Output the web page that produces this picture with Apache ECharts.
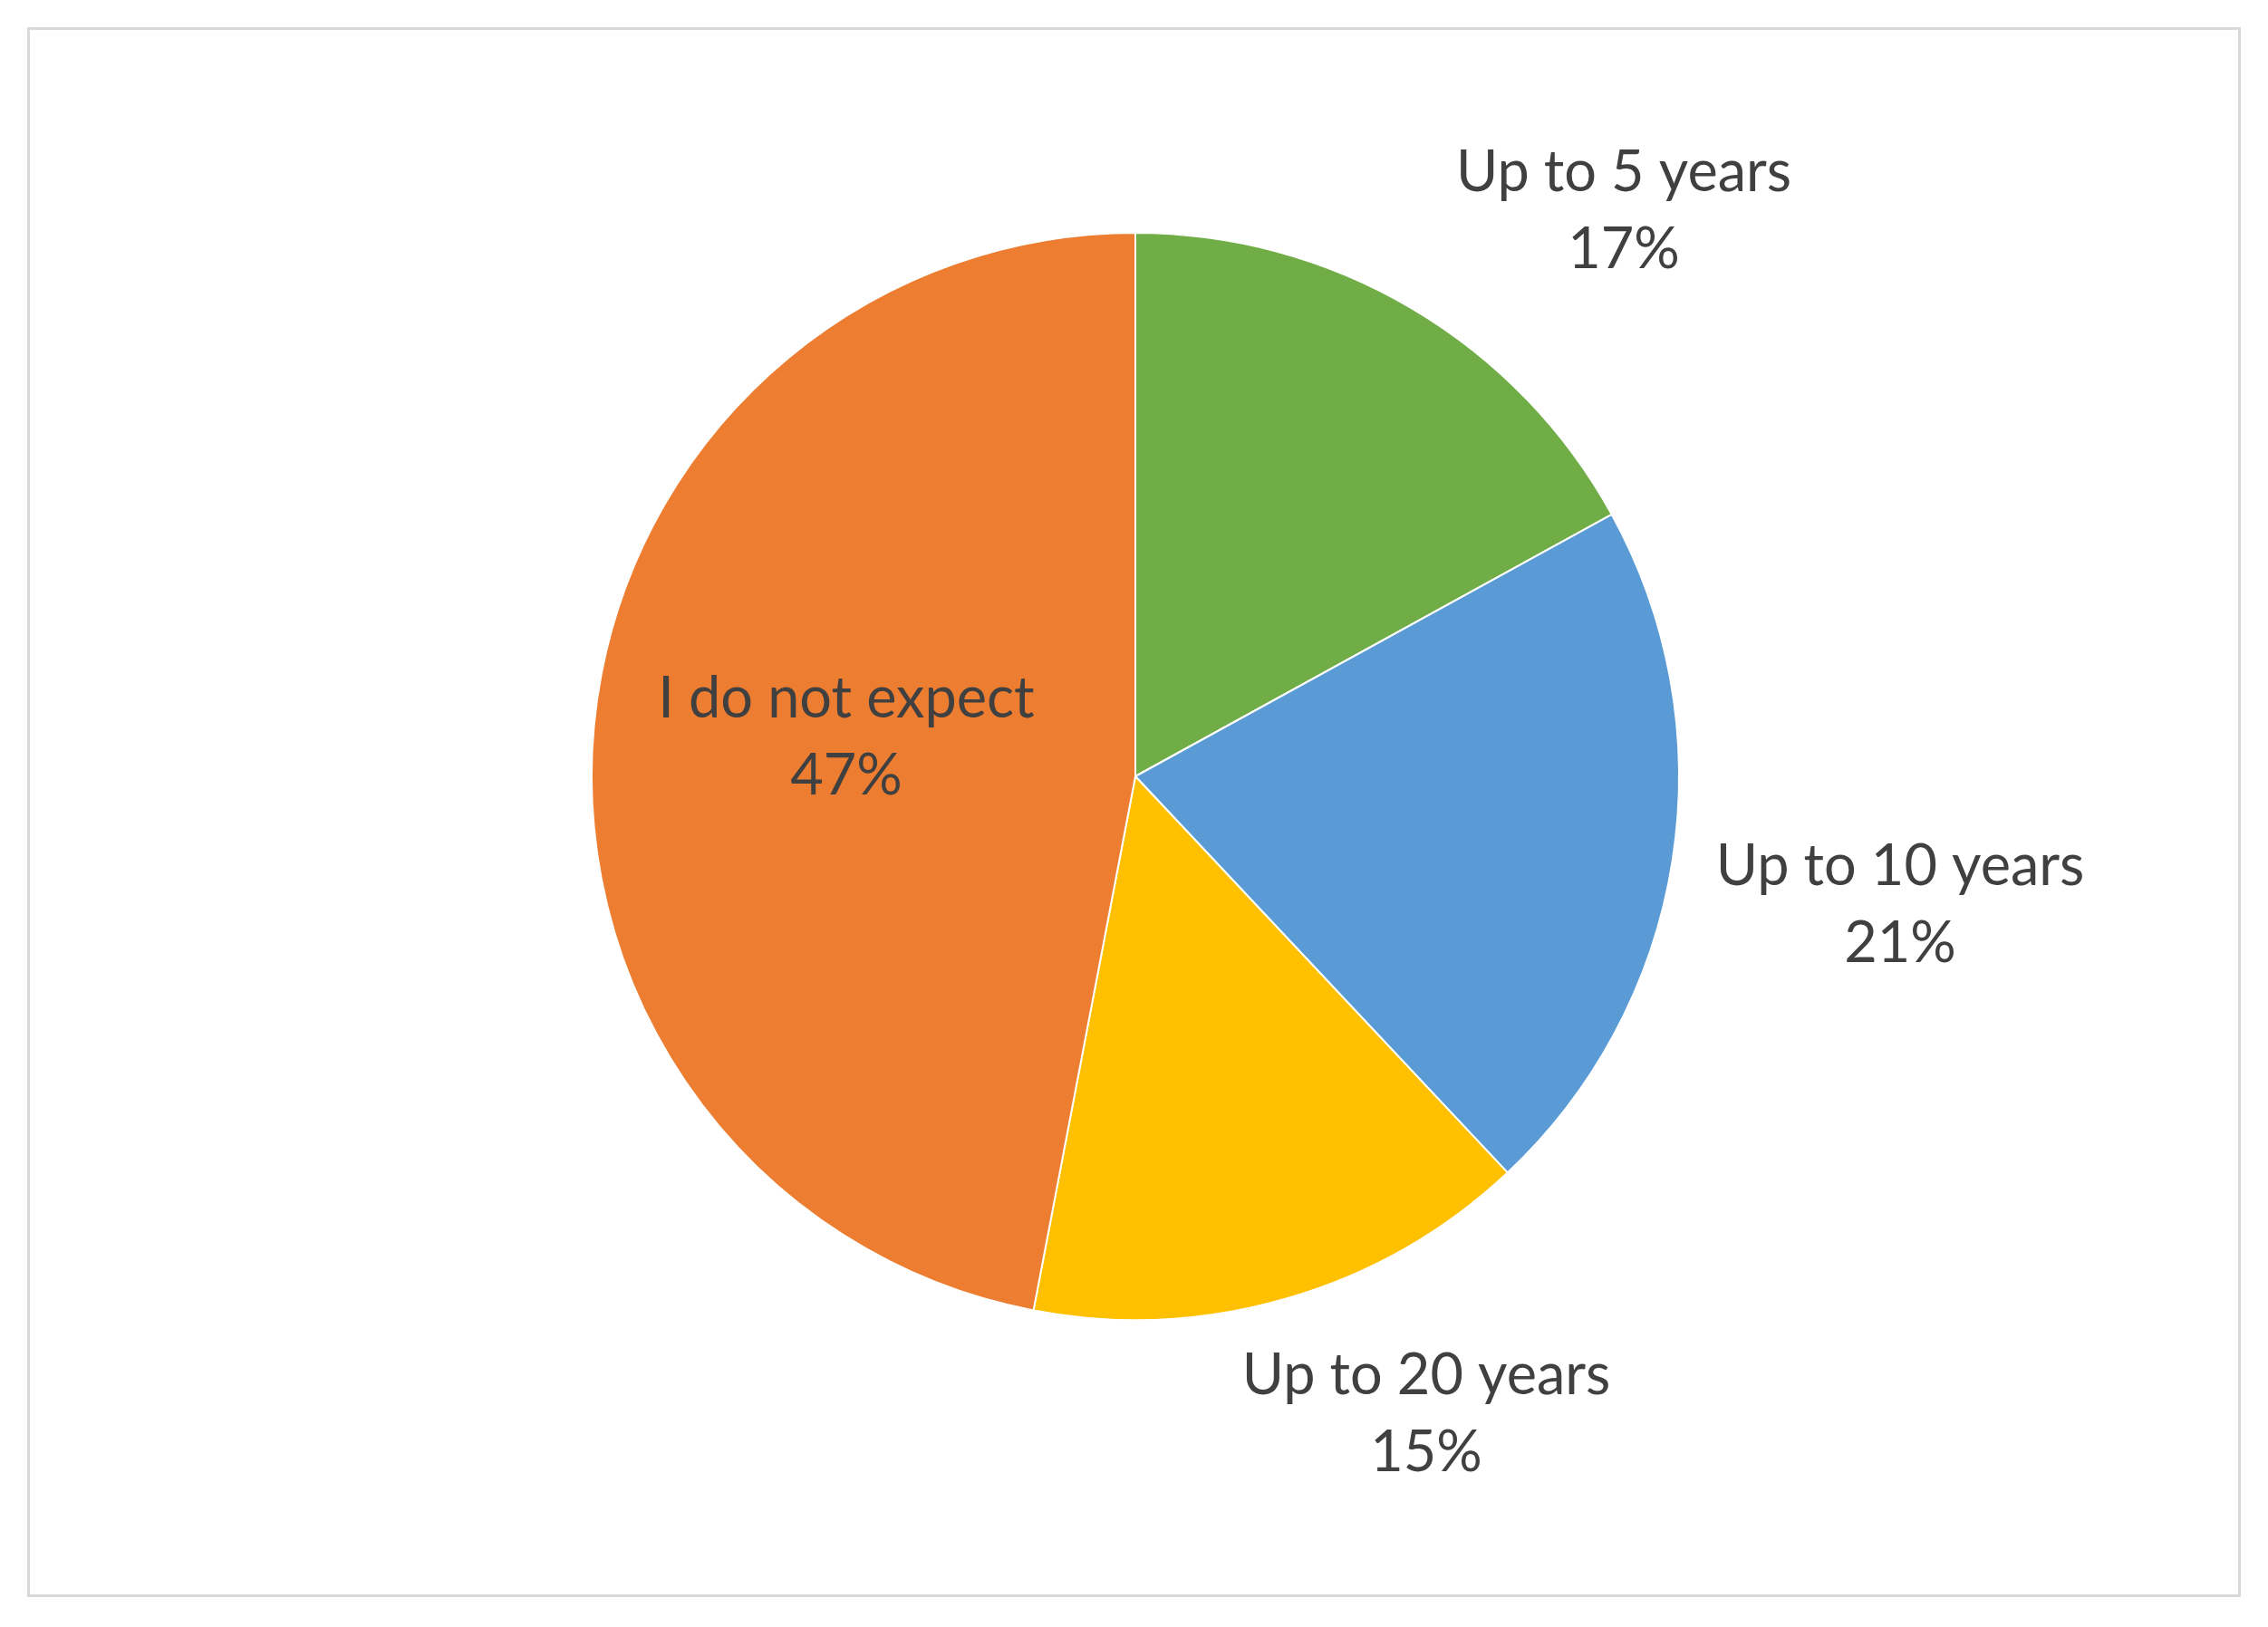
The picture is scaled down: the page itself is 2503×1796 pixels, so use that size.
<!DOCTYPE html>
<html style="height: 100%">
<head>
    <meta charset="UTF-8">
    <title>Pie</title>
</head>
<body style="height: 100%; margin: 0; background: #fff">
<div id="frame" style="position:absolute; left:30px; top:30px; width:2437px; height:1727px; border:3px solid #d9d9d9;"></div>
<div id="main" style="position:absolute; left:0; top:0; width:2503px; height:1796px;"></div>

<script src="https://cdn.jsdelivr.net/npm/echarts@6/dist/echarts.min.js"></script>
<script type="text/javascript">
    // slices, clockwise from 12 o'clock
    var categories = ['Up to 5 years', 'Up to 10 years', 'Up to 20 years', 'I do not expect'];
    var values = [17, 21, 15, 47];
    var colors = ['#70AD47', '#5B9BD5', '#FFC000', '#ED7D31'];
    // where each label sits (centre of text block)
    var labelSpots = [[1792, 233], [2097, 999], [1574, 1561], [934, 814]];

    var myChart = echarts.init(document.getElementById('main'));

    var data = categories.map(function (c, i) {
        var d = { name: c, value: values[i], itemStyle: { color: colors[i] } };
        if (i === 3) d.label = { position: 'inside' };
        return d;
    });

    var option = {
        animation: false,
        textStyle: { fontFamily: 'Lato' },
        series: [{
            type: 'pie',
            center: [1253, 857],
            radius: 600,
            startAngle: 90,
            clockwise: true,
            data: data,
            itemStyle: { borderColor: '#fff', borderWidth: 2 },
            label: {
                show: true,
                formatter: function (p) { return p.name + '\n' + p.value + '%'; },
                color: '#404040',
                fontSize: 63,
                lineHeight: 85,
                fontFamily: 'Lato',
                align: 'center'
            },
            labelLine: { show: false, length: 40, length2: 60 },
            labelLayout: function (p) {
                var s = labelSpots[p.dataIndex];
                return { x: s[0], y: s[1], align: 'center', verticalAlign: 'middle' };
            }
        }]
    };
    myChart.setOption(option);
</script>
</body>
</html>
